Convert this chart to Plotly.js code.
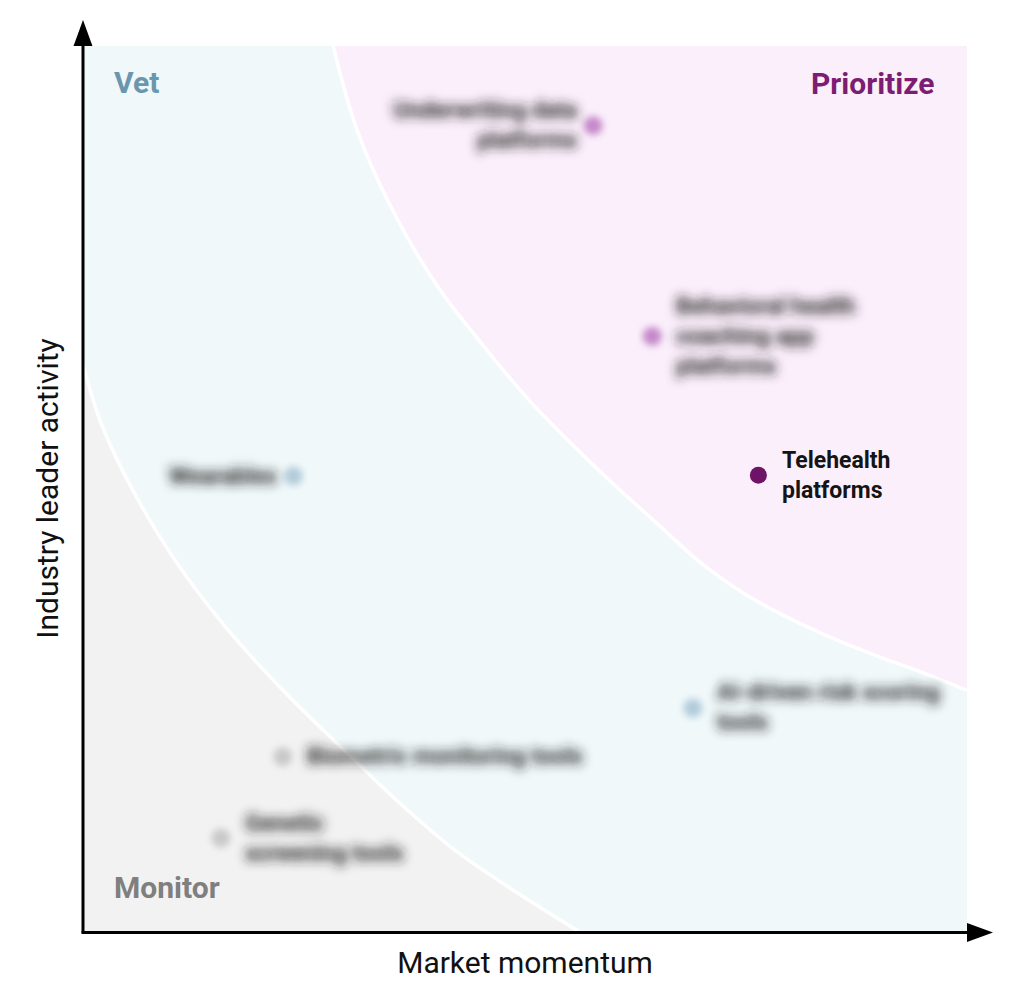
<!DOCTYPE html>
<html>
<head>
<meta charset="utf-8">
<script src="https://cdn.plot.ly/plotly-3.0.1.min.js"></script>
<style>
  html, body { margin: 0; padding: 0; background: #ffffff; }
  #chart { width: 1024px; height: 982px; }
</style>
</head>
<body>
<div id="chart"></div>
<script>
// ---------------- DATA ----------------
const pointLabels = [
  "Underwriting data<br>platforms",
  "Behavioral health<br>coaching app<br>platforms",
  "Telehealth<br>platforms",
  "Wearables",
  "AI-driven risk scoring<br>tools",
  "Biometric monitoring tools",
  "Genetic<br>screening tools"
];
const marketMomentum   = [57.7, 64.4, 76.4, 23.8, 69.0, 22.6, 15.6];
const leaderActivity   = [91.0, 67.2, 51.5, 51.4, 25.2, 19.7, 10.5];
const pointZone        = ["Prioritize", "Prioritize", "Prioritize", "Vet", "Vet", "Monitor", "Monitor"];
const highlighted      = [false, false, true, false, false, false, false];
const labelSide        = ["left", "right", "right", "left", "right", "right", "right"];

// zone boundaries
const prioritizeEdgeX = [28.3, 31, 35, 40, 45, 50, 55, 60, 65, 70, 75, 80, 85, 90, 95, 100];
const prioritizeEdgeY = [100, 90.5, 81.5, 73, 66.5, 60.5, 55.3, 50.5, 46, 41.5, 38, 35.3, 33, 31, 29.2, 27.2];
const monitorEdgeX = [0, 2, 5, 10, 16, 23, 30, 36, 42, 49, 56];
const monitorEdgeY = [64, 57.5, 51, 42.5, 34.5, 26.8, 20, 14.3, 9.2, 4.4, 0];

const zoneNames = ["Vet", "Prioritize", "Monitor"];
const xTitle = "Market momentum";
const yTitle = "Industry leader activity";

// ---------------- STYLE ----------------
const FONT = "Roboto, 'Noto Sans', Arial, sans-serif";
const zoneFill = { Vet: "#f0f8fa", Prioritize: "#fbeffb", Monitor: "#f2f2f2" };
const zoneText = { Vet: "#6a97ae", Prioritize: "#7b1d72", Monitor: "#7f7f7f" };
const softMarker = { Prioritize: "#c488c9", Vet: "#b2ccda", Monitor: "#c9c9c9" };
const strongMarker = "#6e1466";

// ---------------- TRACES ----------------
const traces = [];
// hidden top edge to fill the Prioritize zone against
traces.push({
  x: [prioritizeEdgeX[0], 100], y: [100, 100], mode: "lines",
  line: { width: 0, color: "rgba(0,0,0,0)" }, hoverinfo: "skip", showlegend: false
});
traces.push({
  x: prioritizeEdgeX, y: prioritizeEdgeY, mode: "lines", fill: "tonexty",
  fillcolor: zoneFill.Prioritize, line: { color: "#ffffff", width: 3.5, shape: "spline" },
  hoverinfo: "skip", showlegend: false
});
traces.push({
  x: monitorEdgeX, y: monitorEdgeY, mode: "lines", fill: "tozeroy",
  fillcolor: zoneFill.Monitor, line: { color: "#ffffff", width: 3.5, shape: "spline" },
  hoverinfo: "skip", showlegend: false
});

const blurredTraceIdx = [];
["Prioritize", "Vet", "Monitor"].forEach(z => {
  const idx = marketMomentum.map((_, i) => i).filter(i => pointZone[i] === z && !highlighted[i]);
  if (!idx.length) return;
  blurredTraceIdx.push(traces.length);
  traces.push({
    x: idx.map(i => marketMomentum[i]), y: idx.map(i => leaderActivity[i]),
    mode: "markers", marker: { size: 19, color: softMarker[z] },
    text: idx.map(i => pointLabels[i]), hoverinfo: "text", showlegend: false
  });
});
const hiIdx = marketMomentum.map((_, i) => i).filter(i => highlighted[i]);
traces.push({
  x: hiIdx.map(i => marketMomentum[i]), y: hiIdx.map(i => leaderActivity[i]),
  mode: "markers", marker: { size: 17, color: strongMarker },
  text: hiIdx.map(i => pointLabels[i]), hoverinfo: "text", showlegend: false
});

// ---------------- ANNOTATIONS ----------------
const annotations = [];
const blurredAnnIdx = [];
pointLabels.forEach((t, i) => {
  const left = labelSide[i] === "left";
  if (!highlighted[i]) blurredAnnIdx.push(annotations.length);
  annotations.push({
    x: marketMomentum[i], y: leaderActivity[i], xref: "x", yref: "y",
    text: t, showarrow: false,
    xanchor: left ? "right" : "left", align: left ? "right" : "left",
    xshift: left ? -14 : 22,
    font: { family: FONT, size: 23, weight: 700, color: highlighted[i] ? "#141414" : "#222222" }
  });
});
const zonePos = {
  Vet:        { x: 0.033, y: 0.959, xanchor: "left" },
  Prioritize: { x: 0.965, y: 0.958, xanchor: "right" },
  Monitor:    { x: 0.033, y: 0.049, xanchor: "left" }
};
zoneNames.forEach(z => {
  annotations.push({
    xref: "paper", yref: "paper", x: zonePos[z].x, y: zonePos[z].y,
    xanchor: zonePos[z].xanchor, yanchor: "middle", showarrow: false, text: z,
    font: { family: FONT, size: 30, weight: 700, color: zoneText[z] }
  });
});

// ---------------- AXES (lines + arrowheads) ----------------
const shapes = [
  { type: "line", xref: "paper", yref: "paper", x0: 0, x1: 0, y0: -0.002, y1: 1.005,
    line: { color: "#000", width: 3 } },
  { type: "line", xref: "paper", yref: "paper", x0: -0.0017, x1: 1.005, y0: -0.0017, y1: -0.0017,
    line: { color: "#000", width: 3 } },
  { type: "path", xref: "paper", yref: "paper",
    path: "M 0,1.0294 L -0.0107,1.0 L 0.0107,1.0 Z", fillcolor: "#000", line: { width: 0 } },
  { type: "path", xref: "paper", yref: "paper",
    path: "M 1.0294,-0.0017 L 1.0,0.0090 L 1.0,-0.0124 Z", fillcolor: "#000", line: { width: 0 } }
];

const layout = {
  width: 1024, height: 982,
  margin: { l: 83, r: 57, t: 46, b: 51, pad: 0 },
  paper_bgcolor: "#ffffff", plot_bgcolor: zoneFill.Vet,
  showlegend: false,
  font: { family: FONT },
  xaxis: {
    range: [0, 100], showgrid: false, zeroline: false, showticklabels: false,
    ticks: "", showline: false, fixedrange: true,
    title: { text: xTitle, font: { family: FONT, size: 30, color: "#111" }, standoff: 20 }
  },
  yaxis: {
    range: [0, 100], showgrid: false, zeroline: false, showticklabels: false,
    ticks: "", showline: false, fixedrange: true,
    title: { text: yTitle, font: { family: FONT, size: 30, color: "#111" }, standoff: 14 }
  },
  shapes: shapes,
  annotations: annotations
};

Plotly.newPlot("chart", traces, layout, { staticPlot: true, displayModeBar: false }).then(gd => {
  const ns = "http://www.w3.org/2000/svg";
  const svg = gd.querySelector("svg.main-svg");
  let defs = svg.querySelector("defs");
  if (!defs) { defs = document.createElementNS(ns, "defs"); svg.insertBefore(defs, svg.firstChild); }
  function mk(id, sd) {
    const f = document.createElementNS(ns, "filter");
    f.setAttribute("id", id);
    f.setAttribute("x", "-30%"); f.setAttribute("y", "-80%");
    f.setAttribute("width", "160%"); f.setAttribute("height", "260%");
    const g = document.createElementNS(ns, "feGaussianBlur");
    g.setAttribute("stdDeviation", sd);
    f.appendChild(g); defs.appendChild(f);
  }
  mk("softblurText", "5.5");
  mk("softblurDot", "3.5");
  gd.querySelectorAll("g.annotation").forEach(a => {
    const k = +a.getAttribute("data-index");
    if (blurredAnnIdx.indexOf(k) >= 0) a.setAttribute("filter", "url(#softblurText)");
  });
  const tr = gd.querySelectorAll(".scatterlayer .trace");
  blurredTraceIdx.forEach(k => { if (tr[k]) tr[k].querySelectorAll("path.point").forEach(p => p.setAttribute("filter", "url(#softblurDot)")); });
});
</script>
</body>
</html>
